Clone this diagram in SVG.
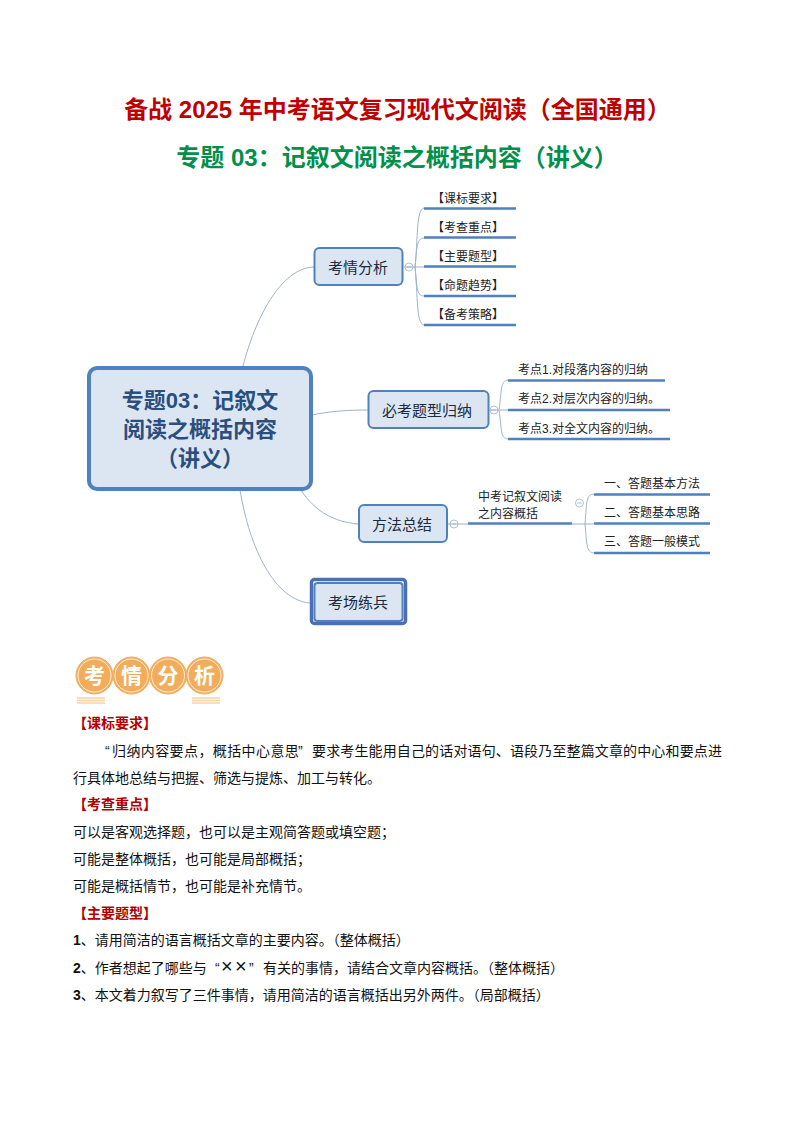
<svg xmlns="http://www.w3.org/2000/svg" width="794" height="1123" viewBox="0 0 794 1123">
<style>
text{font-family:"Liberation Sans","Noto Sans CJK SC",sans-serif}
.c{fill:none;stroke:#9fb3cb;stroke-width:1}
.u{fill:none;stroke:#4f81bd;stroke-width:2.4}
.n{fill:#dce6f2;stroke:#4f81bd;stroke-width:2}
.nt{font-size:15px;fill:#1a2a40;text-anchor:middle}
.s{font-size:12px;fill:#222}
.t{fill:none;stroke:#9fb3cb;stroke-width:.8}
.b{font-size:14px;fill:#111}
.r{font-size:14px;fill:#b00000;font-weight:bold}
.o{fill:#f2ad5c;stroke:#f2ad5c}
</style>
<rect width="794" height="1123" fill="#fff"/>
<text x="397.500" y="118" font-size="24" font-weight="bold" fill="#c00000" text-anchor="middle">备战 2025 年中考语文复习现代文阅读（全国通用）</text>
<text x="397" y="166" font-size="24" font-weight="bold" fill="#00904a" text-anchor="middle">专题 03：记叙文阅读之概括内容（讲义）</text>
<g id="connectors">
<path class="c" d="M243 366C255 320 280 268 314 267"/>
<path class="c" d="M312 415C330 411 350 410 368 410"/>
<path class="c" d="M301 490C315 512 335 522 358 524"/>
<path class="c" d="M240 490C250 550 275 600 310 603"/>
<path class="c" d="M404 267H424"/>
<path class="c" d="M415 267C418 240 416 209 424 208"/>
<path class="c" d="M415 267C417 250 416 238 424 238"/>
<path class="c" d="M415 267C417 285 416 296 424 296"/>
<path class="c" d="M415 267C418 295 416 324 424 325"/>
<path class="u" d="M424 208.500H516M424 237.500H516M424 266.500H516M424 296H516M424 325H516"/>
<path class="c" d="M489 410H508"/>
<path class="c" d="M499 410C502 390 500 381 508 380"/>
<path class="c" d="M499 410C502 430 500 438 508 439"/>
<path class="u" d="M508 380.500H665M508 410H670M508 439H670"/>
<path class="c" d="M448 524H468"/>
<path class="u" d="M468 523.500H572"/>
<path class="c" d="M572 524H594"/>
<path class="c" d="M585 524C587 500 586 495 594 494"/>
<path class="c" d="M585 524C587 545 586 552 594 553"/>
<path class="u" d="M594 494.500H710M594 523.500H710M594 553H710"/>
<circle class="t" cx="409" cy="267" r="4" fill="#fff"/><path class="t" d="M406.500 267H411.500"/>
<circle class="t" cx="494" cy="410" r="4" fill="#fff"/><path class="t" d="M491.500 410H496.500"/>
<circle class="t" cx="454" cy="524" r="4" fill="#fff"/><path class="t" d="M451.500 524H456.500"/>
<circle class="t" cx="579.500" cy="503" r="4" fill="#fff"/><path class="t" d="M577 503H582"/>
</g>
<g id="root"><rect x="89" y="368" width="222" height="121" rx="8" fill="#dce6f2" stroke="#4f81bd" stroke-width="4"/>
<g font-size="22" font-weight="bold" fill="#2a4f7d" text-anchor="middle"><text x="200" y="408">专题03：记叙文</text><text x="200" y="437">阅读之概括内容</text><text x="200" y="466">（讲义）</text></g></g>
<g id="n1"><rect class="n" x="314.500" y="248" width="88" height="37" rx="5"/><text class="nt" x="358" y="273">考情分析</text></g>
<g id="n2"><rect class="n" x="368.500" y="391" width="120" height="37" rx="5"/><text class="nt" x="427" y="416">必考题型归纳</text></g>
<g id="n3"><rect class="n" x="359" y="505" width="88" height="37" rx="5"/><text class="nt" x="402" y="530">方法总结</text></g>
<g id="n4"><rect x="311.500" y="579.500" width="94" height="44" rx="3" fill="#fff" stroke="#4a6fb5" stroke-width="3.500"/><rect class="n" x="314.500" y="583" width="88" height="38" rx="3" stroke-width="1.200"/><text class="nt" x="358" y="608">考场练兵</text></g>
<g class="s">
<text x="432" y="203">【课标要求】</text><text x="432" y="232">【考查重点】</text><text x="432" y="261">【主要题型】</text><text x="432" y="290">【命题趋势】</text><text x="432" y="319">【备考策略】</text>
<text x="518" y="374">考点1.对段落内容的归纳</text><text x="518" y="403">考点2.对层次内容的归纳。</text><text x="518" y="433">考点3.对全文内容的归纳。</text>
<text x="478" y="501">中考记叙文阅读</text><text x="478" y="518">之内容概括</text>
<text x="604" y="488">一、答题基本方法</text><text x="604" y="517">二、答题基本思路</text><text x="604" y="546">三、答题一般模式</text>
</g>
<g id="badge">
<circle class="o" cx="94.500" cy="675.500" r="18.500"/><circle class="o" cx="131.500" cy="675.500" r="18.500"/><circle class="o" cx="168" cy="675.500" r="18.500"/><circle class="o" cx="204.500" cy="675.500" r="18.500"/>
<g fill="none" stroke="#fff" stroke-width=".8"><circle cx="94.500" cy="675.500" r="16.500"/><circle cx="131.500" cy="675.500" r="16.500"/><circle cx="168" cy="675.500" r="16.500"/><circle cx="204.500" cy="675.500" r="16.500"/></g>
<g font-size="21" font-weight="bold" fill="#fff" text-anchor="middle"><text x="94.500" y="683">考</text><text x="131.500" y="683">情</text><text x="168" y="683">分</text><text x="204.500" y="683">析</text></g>
<path d="M77 698H105M77 700.500H105M77 703H105M192 698H220M192 700.500H220M192 703H220" stroke="#f5d3a6" stroke-width="1.600"/>
</g>
<text class="r" x="73" y="728">【课标要求】</text>
<text class="b" y="756"><tspan x="105">“</tspan><tspan x="112" letter-spacing=".4">归纳内容要点，概括中心意思</tspan><tspan x="298">”</tspan><tspan x="312" letter-spacing=".14">要求考生能用自己的话对语句、语段乃至整篇文章的中心和要点进</tspan></text>
<text class="b" x="73" y="783">行具体地总结与把握、筛选与提炼、加工与转化。</text>
<text class="r" x="73" y="809">【考查重点】</text>
<text class="b" x="73" y="837">可以是客观选择题，也可以是主观简答题或填空题；</text>
<text class="b" x="73" y="864">可能是整体概括，也可能是局部概括；</text>
<text class="b" x="73" y="891">可能是概括情节，也可能是补充情节。</text>
<text class="r" x="73" y="918">【主要题型】</text>
<text class="b" x="73" y="945"><tspan font-weight="bold">1</tspan>、请用简洁的语言概括文章的主要内容。（整体概括）</text>
<text class="b" y="973"><tspan x="73" font-weight="bold">2</tspan>、作者想起了哪些与<tspan x="215">“</tspan><tspan x="221" font-size="20" font-weight="300">×</tspan><tspan x="235" font-size="20" font-weight="300">×</tspan><tspan x="249">”</tspan><tspan x="263">有关的事情，请结合文章内容概括。（整体概括）</tspan></text>
<text class="b" x="73" y="1000"><tspan font-weight="bold">3</tspan>、本文着力叙写了三件事情，请用简洁的语言概括出另外两件。（局部概括）</text>
</svg>
